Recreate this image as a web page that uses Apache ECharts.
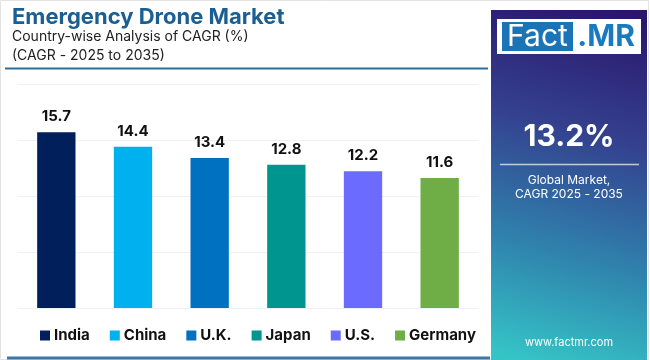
<!DOCTYPE html>
<html><head><meta charset="utf-8">
<script src="https://cdn.jsdelivr.net/npm/echarts@6/dist/echarts.min.js"></script>
<style>html,body{margin:0;padding:0;background:#fff}#c{width:650px;height:360px}</style>
</head><body><div id="c"></div>
<script>
const categories = ['India', 'China', 'U.K.', 'Japan', 'U.S.', 'Germany'];
const values = [15.7, 14.4, 13.4, 12.8, 12.2, 11.6];
const colors = ['#001f5b', '#00b0ef', '#0070c0', '#00968f', '#6b6bff', '#6fad46'];
const yTicks = [0, 5, 10, 15, 20];

const chart = echarts.init(document.getElementById('c'), null, {renderer: 'canvas'});
const F = 'Inter, "Noto Sans", sans-serif';

const series = categories.map((name, i) => ({
  name: name,
  type: 'bar',
  stack: 'all',
  barWidth: '50%',
  itemStyle: {color: colors[i]},
  label: {show: true, position: 'top', distance: 8, color: '#111', fontFamily: F, fontWeight: 'bold', fontSize: 15,
          formatter: p => p.value.toFixed(1)},
  data: values.map((v, j) => j === i ? v : null)
}));

chart.setOption({
  animation: false,
  grid: {left: 18, right: 172, top: 84, bottom: 52, containLabel: false},
  xAxis: {type: 'category', data: categories, axisLine: {show: false}, axisTick: {show: false}, axisLabel: {show: false}},
  yAxis: {type: 'value', min: yTicks[0], max: yTicks[yTicks.length - 1], interval: 5,
          axisLabel: {show: false}, axisLine: {show: false}, axisTick: {show: false},
          splitLine: {lineStyle: {color: '#eef0f4', width: 1}}},
  legend: {
    data: categories, left: 35, top: 323, itemWidth: 10, itemHeight: 10, itemGap: 20,
    icon: 'rect', textStyle: {fontFamily: F, fontWeight: 'bold', fontSize: 15, color: '#111', padding: [0,0,0,-1]}
  },
  series: series,
  graphic: [
    {type: 'rect', shape: {x: 0.5, y: 0.5, width: 648, height: 359}, style: {fill: 'none', stroke: '#e3e3e3', lineWidth: 1}, z: -1},
    {type: 'text', left: 12, top: 6, style: {text: 'Emergency Drone Market', fill: '#1a5e92', font: 'bold 22px ' + F}},
    {type: 'text', left: 12, top: 30, style: {text: 'Country-wise Analysis of CAGR (%)', fill: '#222', font: '14px ' + F}},
    {type: 'text', left: 12, top: 49, style: {text: '(CAGR - 2025 to 2035)', fill: '#222', font: '14px ' + F}},
    {type: 'line', shape: {x1: 5, y1: 68.5, x2: 488, y2: 68.5}, style: {stroke: '#2d6e9c', lineWidth: 2}},
    {type: 'line', shape: {x1: 7, y1: 358, x2: 490, y2: 358}, style: {stroke: '#3a79a8', lineWidth: 3}},
    {type: 'rect', shape: {x: 491, y: 10, width: 156, height: 350},
     style: {fill: new echarts.graphic.LinearGradient(0.8, 0, 0.2, 1, [
       {offset: 0, color: '#2a156b'}, {offset: 0.35, color: '#34418f'}, {offset: 0.7, color: '#2f85ae'}, {offset: 1, color: '#35c4c6'}])}},
    {type: 'rect', shape: {x: 497, y: 19, width: 144, height: 35}, style: {fill: '#fff'}},
    {type: 'rect', shape: {x: 502, y: 22, width: 71, height: 29}, style: {fill: '#1b74b8'}},
    {type: 'text', x: 537.5, y: 37, style: {text: 'Fact', fill: '#fff', font: '30px ' + F, align: 'center', verticalAlign: 'middle'}},
    {type: 'text', x: 606, y: 37, style: {text: '.MR', fill: '#1a7ac0', font: 'bold 30px ' + F, align: 'center', verticalAlign: 'middle'}},
    {type: 'text', x: 569, y: 137, style: {text: '13.2%', fill: '#fff', font: 'bold 30px ' + F, align: 'center', verticalAlign: 'middle'}},
    {type: 'line', shape: {x1: 500, y1: 164.5, x2: 639, y2: 164.5}, style: {stroke: 'rgba(255,255,255,0.7)', lineWidth: 1.5}},
    {type: 'text', x: 569, y: 180, style: {text: 'Global Market,', fill: '#fff', font: '12px ' + F, align: 'center', verticalAlign: 'middle'}},
    {type: 'text', x: 569, y: 194, style: {text: 'CAGR 2025 - 2035', fill: '#fff', font: '12px ' + F, align: 'center', verticalAlign: 'middle'}},
    {type: 'text', x: 569, y: 343, style: {text: 'www.factmr.com', fill: '#fff', font: '11px ' + F, align: 'center', verticalAlign: 'middle'}}
  ]
});
</script></body></html>
